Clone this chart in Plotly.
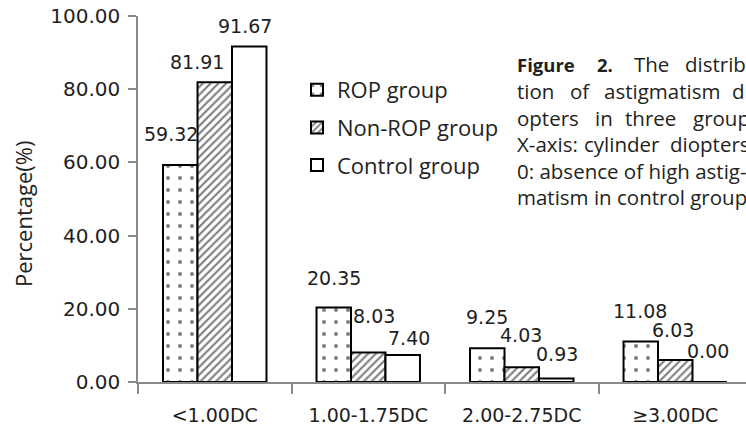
import plotly.graph_objects as go

# ---------------- data ----------------
categories = ["<1.00DC", "1.00-1.75DC", "2.00-2.75DC", "≥3.00DC"]
rop = [59.32, 20.35, 9.25, 11.08]
non_rop = [81.91, 8.03, 4.03, 6.03]
control = [91.67, 7.40, 0.93, 0.00]
series_names = ["ROP group", "Non-ROP group", "Control group"]
y_tickvals = [0, 20, 40, 60, 80, 100]

caption_words = [
    ["<b>Figure</b>", "<b>2.</b>", "The", "distribu-"],
    ["tion", "of", "astigmatism", "di-"],
    ["opters", "in", "three", "groups."],
    ["X-axis:", "cylinder", "diopters."],
    ["0: absence of high astig-"],
    ["matism in control group."],
]

# ---------------- styling / layout ----------------
W, H = 746, 429
L, R, T, B = 138, 0, 16, 47
PW, PH = W - L - R, H - T - B
cat_px = 153.5
bargap = 0.326
bw = (1 - bargap) / 3

# per-label pixel nudges (as placed in the original)
label_dx = [[-9.5, 0, 0, -1], [-17.5, 6, -1, -2.5], [-4, 6.5, 0.5, -2]]
label_dy = [[31, 29.5, 31.5, 30], [20, 37, 32, 30], [20, 17, 25, 31.5]]

caption_word_x = [
    [515, 595, 632, 683],
    [515, 568, 602, 730],
    [515, 593, 623, 691],
    [515, 582, 668],
    [515],
    [515],
]
caption_line_y = [64, 91, 117.5, 144, 170.5, 197]

patterns = [
    dict(shape=".", size=12, solidity=0.09, fgcolor="black", bgcolor="white"),
    dict(shape="/", size=5.5, solidity=0.4, fgcolor="black", bgcolor="white"),
    dict(shape="", fgcolor="black", bgcolor="white"),
]

num_font = dict(family="DejaVu Sans", size=19, color="#1e1e1e")
txt_font = dict(family="Open Sans", size=22, color="#222222")
cap_font = dict(family="Open Sans", size=20.5, color="#231f20")
cap_bold_font = dict(family="Open Sans", size=18.5, color="#231f20")


def px2paper_x(px):
    return (px - L) / PW


def px2paper_y(py):
    return (H - B - py) / PH


fig = go.Figure()
series = [rop, non_rop, control]
for s, (name, vals) in enumerate(zip(series_names, series)):
    fig.add_trace(go.Bar(
        x=categories, y=vals, name=name, legendgroup=name,
        marker=dict(color="white", line=dict(color="black", width=2),
                    pattern=patterns[s]),
        hoverinfo="x+y+name",
    ))

annotations = []
for s, vals in enumerate(series):
    for i, v in enumerate(vals):
        annotations.append(dict(
            x=i + (s - 1) * bw, y=v, xref="x", yref="y",
            text=f"{v:.2f}", showarrow=False,
            xanchor="center", yanchor="middle",
            xshift=label_dx[s][i], yshift=label_dy[s][i],
            font=num_font,
        ))

annotations.append(dict(
    x=px2paper_x(23), y=px2paper_y(214), xref="paper", yref="paper",
    text="Percentage(%)", textangle=-90, showarrow=False,
    xanchor="center", yanchor="middle",
    font=dict(family="Open Sans", size=22, color="#222222"),
))

for words, xs, ly in zip(caption_words, caption_word_x, caption_line_y):
    for w, xp in zip(words, xs):
        annotations.append(dict(
            x=px2paper_x(xp), y=px2paper_y(ly), xref="paper", yref="paper",
            text=w, showarrow=False, xanchor="left", yanchor="middle",
            font=cap_bold_font if w.startswith("<b>") else cap_font,
        ))

fig.update_layout(
    width=W, height=H,
    margin=dict(l=L, r=R, t=T, b=B, pad=0),
    paper_bgcolor="white", plot_bgcolor="white",
    barmode="group", bargap=bargap, bargroupgap=0,
    showlegend=True,
    legend=dict(
        x=px2paper_x(297), y=px2paper_y(69), xanchor="left", yanchor="top",
        font=txt_font, bgcolor="rgba(0,0,0,0)", traceorder="grouped",
        tracegroupgap=6,
    ),
    annotations=annotations,
    xaxis=dict(
        type="category", range=[-0.5, -0.5 + PW / cat_px],
        showline=True, linecolor="#8a8a8a", linewidth=1.5,
        ticks="outside", tickson="boundaries", ticklen=10,
        tickcolor="#8a8a8a", tickwidth=1.5,
        showgrid=False, zeroline=False,
        tickfont=num_font, ticklabelstandoff=15,
    ),
    yaxis=dict(
        range=[0, 100], tickvals=y_tickvals, tickformat=".2f",
        showline=True, linecolor="#8a8a8a", linewidth=1.5,
        ticks="outside", ticklen=8, tickcolor="#8a8a8a", tickwidth=1.5,
        showgrid=False, zeroline=False,
        tickfont=dict(family="DejaVu Sans", size=20, color="#1e1e1e"),
        ticklabelstandoff=4,
    ),
)

fig.write_html(
    "out.html",
    config={"displayModeBar": False},
    post_script="document.body.style.margin='0';document.body.style.overflow='hidden';",
)
